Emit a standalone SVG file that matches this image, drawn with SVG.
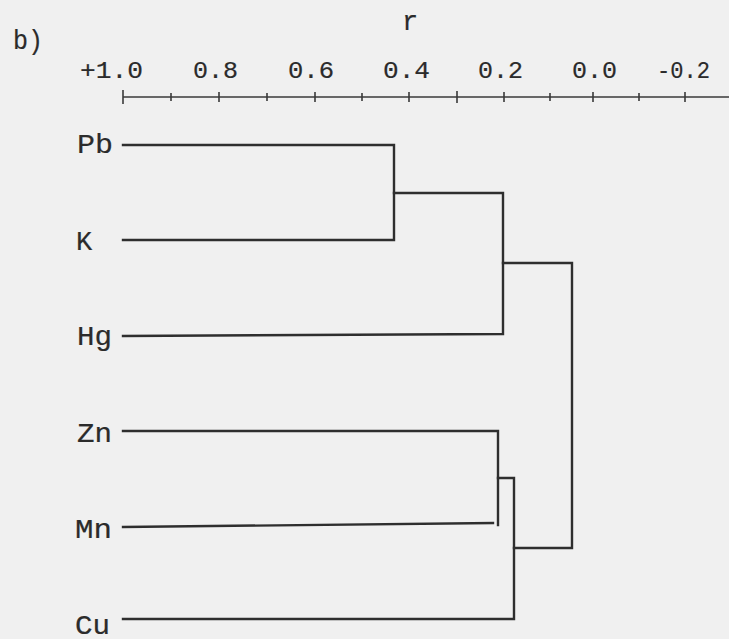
<svg xmlns="http://www.w3.org/2000/svg" width="729" height="639" viewBox="0 0 729 639">
  <style>
    .txt { font-family: "Liberation Mono", "DejaVu Sans Mono", monospace; font-size: 27px; fill: #2b2b2b; stroke: #2b2b2b; stroke-width: 0.2; }
    .num { font-size: 24px; }
    .ln { stroke: #2e2e2e; stroke-width: 2.4; fill: none; stroke-linecap: square; }
    .ax { stroke: #3a3a3a; stroke-width: 1.6; fill: none; }
  </style>
  <rect width="729" height="639" fill="#f0f0f0"/>

  <!-- panel label and axis title -->
  <text class="txt" x="13" y="49" textLength="30" lengthAdjust="spacingAndGlyphs">b)</text>
  <text class="txt" x="402" y="30">r</text>

  <!-- correlation axis -->
  <g id="axis">
    <line class="ax" x1="123" y1="97" x2="729" y2="97"/>
    <line class="ax" x1="123" y1="90" x2="123" y2="104" stroke-width="2.4"/>
    <path class="ax" d="M171,93V101 M219,92V102 M267,93V101 M315,92V102 M362,93V101 M409,92V102 M457,91V103 M504,92V102 M550,93V101 M593,92V102 M639,93V101 M685,92V102"/>
    <text class="txt num" x="80" y="78" textLength="63" lengthAdjust="spacingAndGlyphs">+1.0</text>
    <text class="txt num" x="193" y="78" textLength="45" lengthAdjust="spacingAndGlyphs">0.8</text>
    <text class="txt num" x="288" y="78" textLength="46" lengthAdjust="spacingAndGlyphs">0.6</text>
    <text class="txt num" x="383" y="78" textLength="47" lengthAdjust="spacingAndGlyphs">0.4</text>
    <text class="txt num" x="478" y="78" textLength="45" lengthAdjust="spacingAndGlyphs">0.2</text>
    <text class="txt num" x="572" y="78" textLength="45" lengthAdjust="spacingAndGlyphs">0.0</text>
    <text class="txt num" x="657" y="78" textLength="53" lengthAdjust="spacingAndGlyphs">-0.2</text>
  </g>

  <!-- leaf labels -->
  <g id="Pb"><text class="txt" x="77" y="153" textLength="36" lengthAdjust="spacingAndGlyphs">Pb</text></g>
  <g id="K"><text class="txt" x="76" y="250">K</text></g>
  <g id="Hg"><text class="txt" x="77" y="345" textLength="35" lengthAdjust="spacingAndGlyphs">Hg</text></g>
  <g id="Zn"><text class="txt" x="77" y="442" textLength="35" lengthAdjust="spacingAndGlyphs">Zn</text></g>
  <g id="Mn"><text class="txt" x="75" y="538" textLength="37" lengthAdjust="spacingAndGlyphs">Mn</text></g>
  <g id="Cu"><text class="txt" x="75" y="634" textLength="35" lengthAdjust="spacingAndGlyphs">Cu</text></g>

  <!-- dendrogram branches -->
  <g id="connectors">
    <path class="ln" d="M123,145H394V240H123"/>
    <path class="ln" d="M394,193H503V334L123,336"/>
    <path class="ln" d="M503,263H572V548H514"/>
    <path class="ln" d="M123,431H498V525"/>
    <path class="ln" d="M123,527L493,523"/>
    <path class="ln" d="M498,478H514V619H123"/>
  </g>
</svg>
